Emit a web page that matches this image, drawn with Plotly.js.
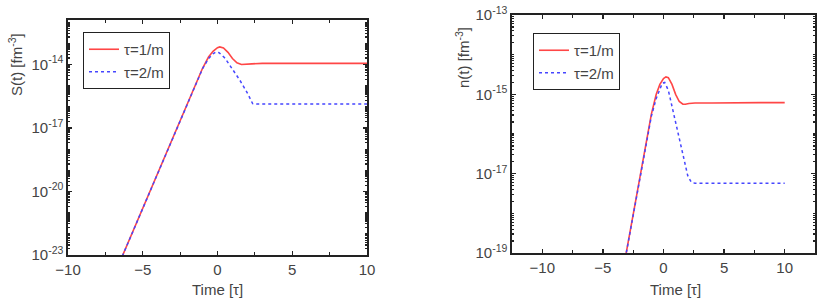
<!DOCTYPE html>
<html>
<head>
<meta charset="utf-8">
<script src="https://cdn.plot.ly/plotly-3.0.1.min.js"></script>
<style>
  html, body { margin: 0; padding: 0; background: #fff; }
  #plot { width: 830px; height: 308px; }
</style>
</head>
<body>
<div id="plot"></div>
<script>
// S(t) 曲线（左图）
const sTimeTau1 = [-7, -6, -5, -4, -3, -2, -1.5, -1, -0.6, -0.3, 0, 0.15, 0.4, 0.7, 1.0, 1.3, 1.6, 1.9, 2.3, 3, 5, 7.5, 10];
const sValTau1 = [7.9e-25, 3.55e-23, 1.62e-21, 7.4e-20, 3.39e-18, 1.55e-16, 1.05e-15, 6.6e-15, 2.24e-14, 4.17e-14, 6.17e-14, 6.76e-14, 6.03e-14, 3.72e-14, 1.91e-14, 1.2e-14, 1.0e-14, 1.0e-14, 1.07e-14, 1.12e-14, 1.12e-14, 1.12e-14, 1.12e-14];

const sTimeTau2 = [-7, -6, -5, -4, -3, -2, -1.5, -1, -0.6, -0.3, -0.1, 0.1, 0.5, 1.0, 1.5, 2.0, 2.35, 2.6, 4, 6, 8, 10];
const sValTau2 = [7.9e-25, 3.55e-23, 1.62e-21, 7.4e-20, 3.39e-18, 1.55e-16, 1.05e-15, 6.3e-15, 1.91e-14, 3.16e-14, 3.89e-14, 3.63e-14, 2.0e-14, 6.3e-15, 1.78e-15, 4.47e-16, 1.41e-16, 1.35e-16, 1.35e-16, 1.35e-16, 1.35e-16, 1.35e-16];

// n(t) 曲线（右图）
const nTimeTau1 = [-3.6, -3, -2.5, -2, -1.5, -1, -0.6, -0.3, 0, 0.2, 0.4, 0.7, 1.0, 1.3, 1.6, 1.8, 2.1, 2.6, 4, 6, 8, 10];
const nValTau1 = [1.32e-20, 1.35e-19, 9.55e-19, 6.76e-18, 4.79e-17, 3.16e-16, 1.0e-15, 1.78e-15, 2.51e-15, 2.75e-15, 2.63e-15, 1.78e-15, 1.0e-15, 6.6e-16, 5.62e-16, 5.62e-16, 5.89e-16, 6.03e-16, 6.03e-16, 6.17e-16, 6.17e-16, 6.17e-16];

const nTimeTau2 = [-3.6, -3, -2.5, -2, -1.5, -1, -0.6, -0.3, -0.1, 0.1, 0.4, 0.7, 1.0, 1.5, 2.0, 2.3, 2.6, 4, 6, 8, 10];
const nValTau2 = [1.32e-20, 1.35e-19, 9.55e-19, 6.76e-18, 4.79e-17, 2.82e-16, 7.9e-16, 1.41e-15, 1.91e-15, 2.0e-15, 1.26e-15, 5.0e-16, 2.0e-16, 3.98e-17, 8.9e-18, 6.03e-18, 5.75e-18, 5.75e-18, 5.75e-18, 5.75e-18, 5.75e-18];

// 图例和刻度
const seriesNames = ['τ=1/m', 'τ=2/m'];
const xTickVals = [-10, -5, 0, 5, 10];
const sTickVals = [1e-23, 1e-20, 1e-17, 1e-14];
const sTickText = ['10<sup>-23</sup>', '10<sup>-20</sup>', '10<sup>-17</sup>', '10<sup>-14</sup>'];
const nTickVals = [1e-19, 1e-17, 1e-15, 1e-13];
const nTickText = ['10<sup>-19</sup>', '10<sup>-17</sup>', '10<sup>-15</sup>', '10<sup>-13</sup>'];

const RED = 'rgb(255, 70, 70)';
const BLUE = 'rgb(70, 70, 255)';
const FONT = 'Liberation Sans, Arial, sans-serif';
const TEXT = '#444';

function initPlot() {
    const traces = [
        { x: sTimeTau1, y: sValTau1, name: seriesNames[0], xaxis: 'x', yaxis: 'y', legend: 'legend',
          mode: 'lines', line: { color: RED, width: 1.6 } },
        { x: sTimeTau2, y: sValTau2, name: seriesNames[1], xaxis: 'x', yaxis: 'y', legend: 'legend',
          mode: 'lines', line: { color: BLUE, width: 1.5, dash: 'dot' } },
        { x: nTimeTau1, y: nValTau1, name: seriesNames[0], xaxis: 'x2', yaxis: 'y2', legend: 'legend2',
          mode: 'lines', line: { color: RED, width: 1.6 } },
        { x: nTimeTau2, y: nValTau2, name: seriesNames[1], xaxis: 'x2', yaxis: 'y2', legend: 'legend2',
          mode: 'lines', line: { color: BLUE, width: 1.5, dash: 'dot' } }
    ];

    // 坐标轴公共样式
    const axisBase = {
        showgrid: false,
        zeroline: false,
        showline: true,
        linecolor: '#222',
        linewidth: 1.6,
        mirror: 'allticks',
        ticks: 'inside',
        ticklen: 4,
        tickwidth: 1.2,
        tickcolor: '#222',
        tickfont: { family: FONT, size: 15, color: TEXT }
    };
    const xMinor = { dtick: 2.5, tick0: 0, ticks: 'inside', ticklen: 3, tickcolor: '#222' };
    const yMinor = { dtick: 'D1', ticks: 'inside', ticklen: 2, tickcolor: '#222' };

    const legendBase = {
        xanchor: 'left',
        yanchor: 'top',
        bgcolor: '#fff',
        bordercolor: '#222',
        borderwidth: 1,
        font: { family: FONT, size: 15, color: TEXT },
        tracegroupgap: 0
    };

    const titleFont = { family: FONT, size: 15, color: TEXT };

    const layout = {
        width: 830,
        height: 308,
        margin: { l: 0, r: 0, t: 0, b: 0 },
        paper_bgcolor: '#fff',
        plot_bgcolor: '#fff',
        font: { family: FONT, color: TEXT },
        showlegend: true,
        xaxis: Object.assign({}, axisBase, {
            domain: [68 / 830, 367 / 830], range: [-10, 10],
            tickmode: 'array', tickvals: xTickVals, minor: xMinor, anchor: 'y'
        }),
        yaxis: Object.assign({}, axisBase, {
            type: 'log', domain: [53 / 308, 288 / 308], range: [-23, -11.9],
            tickmode: 'array', tickvals: sTickVals, ticktext: sTickText, minor: yMinor, anchor: 'x'
        }),
        xaxis2: Object.assign({}, axisBase, {
            domain: [512 / 830, 815 / 830], range: [-12.5, 12.5],
            tickmode: 'array', tickvals: xTickVals, minor: xMinor, anchor: 'y2'
        }),
        yaxis2: Object.assign({}, axisBase, {
            type: 'log', domain: [55 / 308, 293 / 308], range: [-19, -13],
            tickmode: 'array', tickvals: nTickVals, ticktext: nTickText, minor: yMinor, anchor: 'x2'
        }),
        legend: Object.assign({}, legendBase, { x: 83 / 830, y: 1 - 32 / 308 }),
        legend2: Object.assign({}, legendBase, { x: 533 / 830, y: 1 - 33 / 308 }),
        annotations: [
            { text: 'S(t) [fm<sup>-3</sup>]', xref: 'paper', yref: 'paper', x: 15 / 830, y: 1 - 65 / 308,
              xanchor: 'center', yanchor: 'middle', textangle: -90, showarrow: false, font: titleFont },
            { text: 'n(t) [fm<sup>-3</sup>]', xref: 'paper', yref: 'paper', x: 462 / 830, y: 1 - 58 / 308,
              xanchor: 'center', yanchor: 'middle', textangle: -90, showarrow: false, font: titleFont },
            { text: 'Time [τ]', xref: 'paper', yref: 'paper', x: 217 / 830, y: 1 - 289 / 308,
              xanchor: 'center', yanchor: 'middle', showarrow: false, font: titleFont },
            { text: 'Time [τ]', xref: 'paper', yref: 'paper', x: 675 / 830, y: 1 - 289 / 308,
              xanchor: 'center', yanchor: 'middle', showarrow: false, font: titleFont }
        ]
    };

    Plotly.newPlot('plot', traces, layout, { staticPlot: true, displayModeBar: false });
}

document.addEventListener('DOMContentLoaded', function() {
    initPlot();
});
</script>
</body>
</html>
